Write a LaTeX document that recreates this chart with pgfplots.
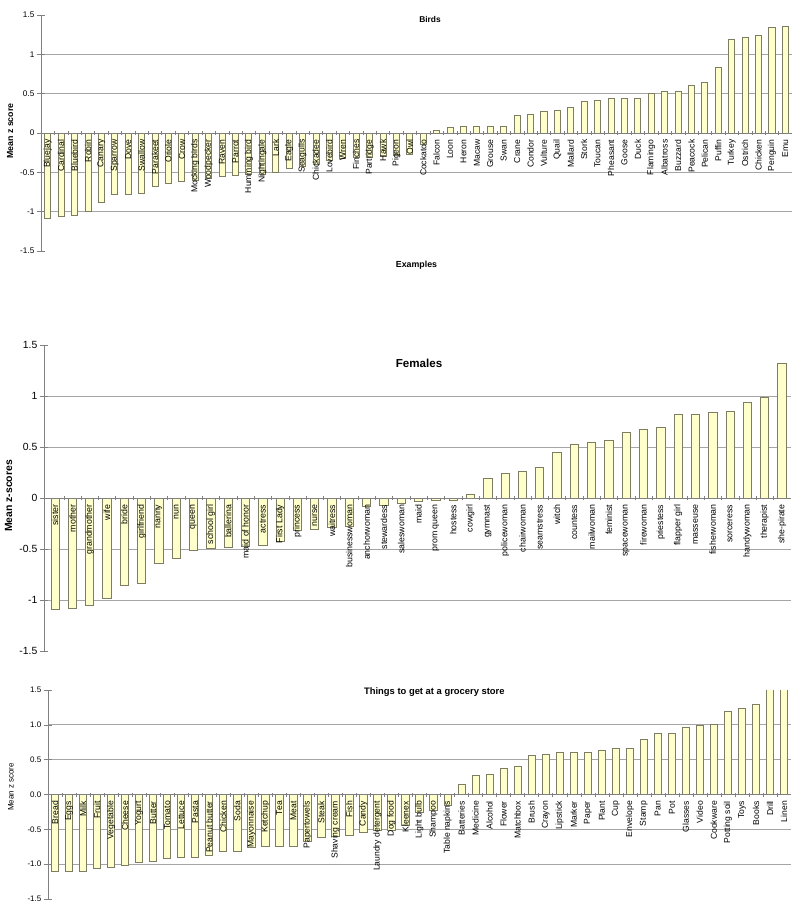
\documentclass[border=0pt]{standalone}
\usepackage{pgfplots}
\pgfplotsset{compat=1.18}
\usepackage{fontspec}
\setmainfont{Liberation Sans}
\definecolor{barfill}{RGB}{255,255,204}
\definecolor{baredge}{RGB}{125,125,100}
\definecolor{gridc}{RGB}{165,165,165}
\tikzset{zgridline/.style={draw=gridc, line width=0.5pt}}
\pgfplotsset{
  zpanel/.style={
    axis on top,
    scale only axis,
    clip mode=individual,
    axis x line=middle,
    axis y line=left,
    axis line style={-, draw=gray},
    hide obscured x ticks=false,
    hide obscured y ticks=false,
    ymin=-1.5, ymax=1.5,
    ytick={-1.5,-1,-0.5,0,0.5,1,1.5},
    ytick style={draw=gray},
    xtick style={draw=gray},
    y tick label style={inner sep=1pt},
    major x tick style={draw=none},
    minor x tick num=1,
    minor tick length=2pt,
    xticklabel style={rotate=90, anchor=east, inner sep=1pt},
    /pgf/number format/assume math mode=true,
  },
  zbar/.style={ybar, bar width=#1, fill=barfill, draw=baredge, line width=0.4pt},
}
\newcommand{\zgrid}[2]{%
  \draw[zgridline] (axis cs:#1,1) -- (axis cs:#2,1);
  \draw[zgridline] (axis cs:#1,0.5) -- (axis cs:#2,0.5);
  \draw[zgridline] (axis cs:#1,-0.5) -- (axis cs:#2,-0.5);
  \draw[zgridline] (axis cs:#1,-1) -- (axis cs:#2,-1);
}
\begin{document}
\begin{tikzpicture}
\path[use as bounding box] (0,0) rectangle (400pt,-454.5pt);
% ---------------- Birds ----------------
\begin{axis}[zpanel,
  at={(20.5pt,-7.5pt)}, anchor=north west,
  width=375.5pt, height=118pt,
  xmin=-0.5, xmax=55.5,
  yticklabels={-1.5,-1,-0.5,0,0.5,1,1.5},
  y tick label style={font=\fontsize{4.1}{5}\selectfont},
  xticklabel style={font=\fontsize{4.3}{5}\selectfont},
  xtick={0,...,55},
  xticklabels={Bluejay,Cardinal,Bluebird,Robin,Canary,Sparrow,Dove,Swallow,Parakeet,Oriole,Crow,Mocking birds,Woodpecker,Raven,Parrot,Humming bird,Nightingale,Lark,Eagle,Seagulls,Chickadee,Lovebird,Wren,Finches,Partridge,Hawk,Pigeon,Owl,Cockatoo,Falcon,Loon,Heron,Macaw,Grouse,Swan,Crane,Condor,Vulture,Quail,Mallard,Stork,Toucan,Pheasant,Goose,Duck,Flamingo,Albatross,Buzzard,Peacock,Pelican,Puffin,Turkey,Ostrich,Chicken,Penguin,Emu},
]
\zgrid{-0.5}{55.5}
\addplot[zbar=0.45] coordinates {
(0,-1.08) (1,-1.06) (2,-1.05) (3,-1.00) (4,-0.88) (5,-0.78) (6,-0.78) (7,-0.77)
(8,-0.68) (9,-0.64) (10,-0.61) (11,-0.60) (12,-0.58) (13,-0.55) (14,-0.54) (15,-0.53)
(16,-0.52) (17,-0.50) (18,-0.45) (19,-0.43) (20,-0.40) (21,-0.35) (22,-0.32) (23,-0.31)
(24,-0.31) (25,-0.30) (26,-0.28) (27,-0.27) (28,-0.15) (29,0.03) (30,0.07) (31,0.09)
(32,0.09) (33,0.09) (34,0.09) (35,0.22) (36,0.24) (37,0.28) (38,0.29) (39,0.33)
(40,0.40) (41,0.41) (42,0.44) (43,0.44) (44,0.44) (45,0.50) (46,0.53) (47,0.53)
(48,0.60) (49,0.64) (50,0.83) (51,1.19) (52,1.21) (53,1.24) (54,1.34) (55,1.36)
};
\node[font=\bfseries\fontsize{4.2}{5}\selectfont] at (rel axis cs:0.518,0.979) {Birds};
\node[font=\bfseries\fontsize{4.4}{5}\selectfont] at (rel axis cs:0.5,-0.061) {Examples};
\node[rotate=90, font=\bfseries\fontsize{4.4}{5}\selectfont] at (rel axis cs:-0.041,0.508) {Mean z score};
\end{axis}
% ---------------- Females ----------------
\begin{axis}[zpanel,
  at={(22pt,-172.5pt)}, anchor=north west,
  width=373.5pt, height=153pt,
  xmin=-0.64, xmax=42.52,
  yticklabels={-1.5,-1,-0.5,0,0.5,1,1.5},
  y tick label style={font=\fontsize{5.2}{6}\selectfont},
  xticklabel style={font=\fontsize{4.4}{5}\selectfont},
  xtick={0,...,42},
  xticklabels={sister,mother,grandmother,wife,bride,girlfriend,nanny,nun,queen,school girl,ballerina,maid of honor,actress,First Lady,princess,nurse,waitress,businesswoman,anchorwoman,stewardess,saleswoman,maid,prom queen,hostess,cowgirl,gymnast,policewoman,chairwoman,seamstress,witch,countess,mailwoman,feminist,spacewoman,firewoman,priestess,flapper girl,masseuse,fisherwoman,sorceress,handywoman,therapist,she-pirate},
]
\zgrid{-0.64}{42.52}
\addplot[zbar=0.48] coordinates {
(0,-1.09) (1,-1.08) (2,-1.05) (3,-0.98) (4,-0.86) (5,-0.84) (6,-0.64) (7,-0.59)
(8,-0.51) (9,-0.49) (10,-0.48) (11,-0.47) (12,-0.46) (13,-0.43) (14,-0.32) (15,-0.31)
(16,-0.29) (17,-0.28) (18,-0.08) (19,-0.07) (20,-0.05) (21,-0.035) (22,-0.02) (23,-0.02)
(24,0.04) (25,0.19) (26,0.24) (27,0.26) (28,0.30) (29,0.45) (30,0.53) (31,0.55)
(32,0.56) (33,0.64) (34,0.67) (35,0.69) (36,0.82) (37,0.82) (38,0.84) (39,0.85)
(40,0.94) (41,0.99) (42,1.32)
};
\node[font=\bfseries\fontsize{5.8}{7}\selectfont] at (rel axis cs:0.502,0.94) {Females};
\node[rotate=90, font=\bfseries\fontsize{5.2}{6}\selectfont] at (rel axis cs:-0.0475,0.507) {Mean z-scores};
\end{axis}
% ---------------- Grocery ----------------
\begin{axis}[zpanel,
  at={(24pt,-345pt)}, anchor=north west,
  width=371.5pt, height=104.5pt,
  xmin=-0.5, xmax=52.5,
  yticklabels={-1.5,-1.0,-0.5,0.0,0.5,1.0,1.5},
  y tick label style={font=\fontsize{4.0}{5}\selectfont},
  xticklabel style={font=\fontsize{4.3}{5}\selectfont},
  xtick={0,...,52},
  xticklabels={Bread,Eggs,Milk,Fruit,Vegetable,Cheese,Yogurt,Butter,Tomato,Lettuce,Pasta,Peanut butter,Chicken,Soda,Mayonnaise,Ketchup,Tea,Meat,Papertowels,Steak,Shaving cream,Fish,Candy,Laundry detergent,Dog food,Kleenex,Light bulb,Shampoo,Table napkins,Batteries,Medicine,Alcohol,Flower,Matchbox,Brush,Crayon,Lipstick,Marker,Paper,Plant,Cup,Envelope,Stamp,Pan,Pot,Glasses,Video,Cookware,Potting soil,Toys,Books,Drill,Linen},
]
\zgrid{-0.5}{52.5}
\addplot[zbar=0.52] coordinates {
(0,-1.10) (1,-1.10) (2,-1.10) (3,-1.06) (4,-1.04) (5,-1.02) (6,-0.98) (7,-0.96)
(8,-0.91) (9,-0.90) (10,-0.90) (11,-0.88) (12,-0.82) (13,-0.82) (14,-0.76) (15,-0.75)
(16,-0.75) (17,-0.75) (18,-0.68) (19,-0.62) (20,-0.60) (21,-0.58) (22,-0.54) (23,-0.52)
(24,-0.51) (25,-0.44) (26,-0.25) (27,-0.23) (28,-0.16) (29,0.14) (30,0.27) (31,0.29)
(32,0.37) (33,0.40) (34,0.56) (35,0.58) (36,0.60) (37,0.60) (38,0.61) (39,0.63)
(40,0.66) (41,0.66) (42,0.79) (43,0.87) (44,0.87) (45,0.97) (46,0.99) (47,1.00)
(48,1.19) (49,1.23) (50,1.30) (51,1.80) (52,1.80)
};
\node[font=\bfseries\fontsize{4.7}{6}\selectfont] at (rel axis cs:0.52,0.992) {Things to get at a grocery store};
\node[rotate=90, font=\fontsize{4.0}{5}\selectfont] at (rel axis cs:-0.05,0.536) {Mean z score};
\end{axis}
\end{tikzpicture}
\end{document}
